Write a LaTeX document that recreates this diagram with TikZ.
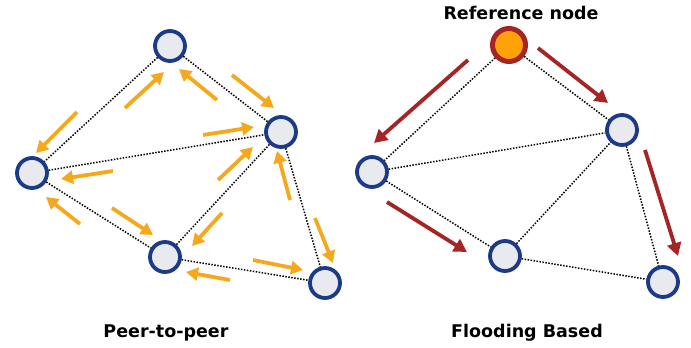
\documentclass[tikz,border=0pt]{standalone}
\usepackage{fontspec}
\setmainfont{DejaVu Sans}
\usetikzlibrary{arrows.meta}
\definecolor{navy}{HTML}{1B3A87}
\definecolor{nodefill}{HTML}{E9EAF0}
\definecolor{flow}{HTML}{F5A81C}
\definecolor{flood}{HTML}{A52424}
\definecolor{refcore}{HTML}{FFA20A}
\tikzset{
  peer/.style={circle, draw=navy, line width=3.8pt, fill=nodefill, minimum size=30pt, inner sep=0pt},
  refnode/.style={circle, draw=flood, line width=5pt, fill=refcore, minimum size=33pt, inner sep=0pt},
  link/.style={line width=1.5pt, dash pattern=on 1.5pt off 1.5pt, black},
  oarrow/.style={line width=3.8pt, flow, -{Triangle[length=12pt,width=13pt]}},
  rarrow/.style={line width=3.8pt, flood, -{Triangle[length=13pt,width=14pt]}},
  lbl/.style={font=\bfseries\fontsize{17.5}{20}\selectfont, inner sep=0pt}
}
\begin{document}
\begin{tikzpicture}[x=1pt,y=-1pt]
\useasboundingbox (0,0) rectangle (691,348);
% left graph
\node[peer] (A) at (170,46) {};
\node[peer] (B) at (281,132) {};
\node[peer] (C) at (32,173) {};
\node[peer] (D) at (165,257) {};
\node[peer] (E) at (325,283) {};
\foreach \u/\v in {A/C,A/B,C/B,C/D,D/B,D/E,B/E} \draw[link] (\u) -- (\v);
% orange arrows
\coordinate (o1s) at (125,108); \coordinate (o1e) at (164,72);
\coordinate (o2s) at (217,100); \coordinate (o2e) at (179,69);
\coordinate (o3s) at (232,75);  \coordinate (o3e) at (274,108);
\coordinate (o4s) at (77,112);  \coordinate (o4e) at (36,153);
\coordinate (o5s) at (203,135); \coordinate (o5e) at (254,127);
\coordinate (o6s) at (113,171); \coordinate (o6e) at (61,179);
\coordinate (o7s) at (218,180); \coordinate (o7e) at (253,147);
\coordinate (o8s) at (290,200); \coordinate (o8e) at (277,151);
\coordinate (o9s) at (80,224);  \coordinate (o9e) at (46,197);
\coordinate (o10s) at (112,208); \coordinate (o10e) at (153,235);
\coordinate (o11s) at (222,213); \coordinate (o11e) at (192,246);
\coordinate (o12s) at (315,218); \coordinate (o12e) at (333,263);
\coordinate (o13s) at (253,260); \coordinate (o13e) at (303,270);
\coordinate (o14s) at (230,280); \coordinate (o14e) at (186,272);
\foreach \i in {1,...,14} \draw[oarrow] (o\i s) -- (o\i e);
% right graph
\node[refnode] (R) at (509,45) {};
\node[peer] (B2) at (622,130) {};
\node[peer] (C2) at (372,172) {};
\node[peer] (D2) at (505,256) {};
\node[peer] (E2) at (663,282) {};
\foreach \u/\v in {R/C2,R/B2,C2/B2,C2/D2,D2/B2,D2/E2,B2/E2} \draw[link] (\u) -- (\v);
\coordinate (r1s) at (468,60);  \coordinate (r1e) at (374,143);
\coordinate (r2s) at (538,48);  \coordinate (r2e) at (608,103);
\coordinate (r3s) at (387,202); \coordinate (r3e) at (467,252);
\coordinate (r4s) at (645,150); \coordinate (r4e) at (678,256);
\foreach \i in {1,...,4} \draw[rarrow] (r\i s) -- (r\i e);
% labels
\node[lbl] (tref) at (521,13) {Reference node};
\node[lbl] (tp2p) at (166,333) {Peer-to-peer};
\node[lbl] (tflood) at (527,333) {Flooding Based};
\end{tikzpicture}
\end{document}
